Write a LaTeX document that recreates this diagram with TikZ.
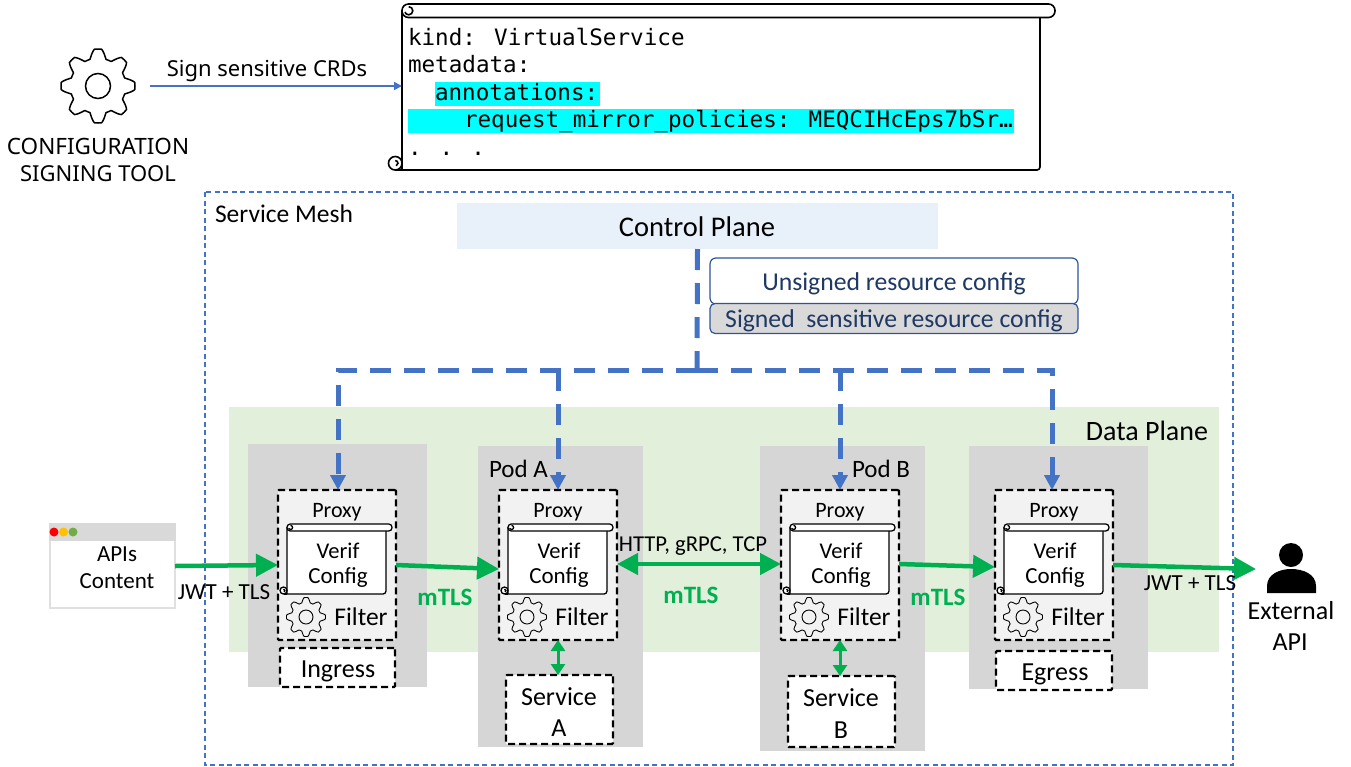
\documentclass[tikz,border=0pt]{standalone}
\usepackage{fontspec}
\setmainfont{Carlito}
\newfontfamily\plexf{Noto Sans}
\newfontfamily\monof{DejaVu Sans Mono}
\usetikzlibrary{arrows.meta,calc}
\definecolor{meshblue}{HTML}{4472C4}
\definecolor{flowgreen}{HTML}{00B050}
\definecolor{planegreen}{HTML}{E2EFDA}
\definecolor{podgrey}{HTML}{D6D6D6}
\definecolor{navytext}{HTML}{1F3864}
\definecolor{navyline}{HTML}{2F5597}
\definecolor{ctrlfill}{HTML}{E8F0F9}
\definecolor{hilite}{HTML}{00FFFF}
\definecolor{dotyellow}{HTML}{FFC000}
\definecolor{dotgreen}{HTML}{70AD47}
\newcommand{\fs}[1]{\fontsize{#1}{#1}\selectfont}
% left, top, body right, roll right, bottom, roll height, line width
\newcommand{\scrollshape}[7]{%
  \draw[line width=#7,fill=white,line join=round] (#1,{#2+#6/2}) -- (#1,#5) [rounded corners=3pt] -- (#3,#5) -- (#3,{#2+#6/2}) [sharp corners] -- cycle;
  \draw[line width=#7,fill=white,rounded corners={#6/2*1pt-0.2pt}] (#1,#2) rectangle (#4,{#2+#6});
  \draw[line width=#7] ({#1+#6*.5},{#2+#6*.2}) arc[start angle=90,end angle=-160,radius={#6*.3*1pt}];
  \draw[line width=#7,fill=white] ({#1-#6/2},{#5-#6/2}) circle[radius={#6/2*1pt}];
  \draw[line width=#7] ({#1-#6*.5},#5) -- (#1,#5);
  \draw[line width=#7] ({#1-#6*.5},{#5-#6*.7}) arc[start angle=90,end angle=-70,radius={#6*.2*1pt}];
}
% centre x, centre y, outer radius, inner radius, line width
\newcommand{\gearshape}[5]{%
  \draw[line width=#5,line join=round] plot[domain=0:360,samples=193,variable=\t]
    ({#1+#3*(.875+.125*max(-1,min(1,1.4*cos(8*\t))))*cos(\t)},{#2+#3*(.875+.125*max(-1,min(1,1.4*cos(8*\t))))*sin(\t)}) -- cycle;
  \draw[line width=#5] (#1,#2) circle[radius=#4*1pt];
}
\tikzset{
  proxybox/.style={fill=black!5,draw=black,line width=2.2pt,dash pattern=on 7pt off 4pt,minimum width=118pt,minimum height=150pt,inner sep=0,outer sep=0,rounded corners=1pt},
  svcbox/.style={fill=white,draw=black,line width=2.2pt,dash pattern=on 7pt off 4pt,inner sep=0,outer sep=0,rounded corners=1pt},
  lbl/.style={inner sep=0,outer sep=0,font=\fs{26},text=black,align=center},
  lblsm/.style={inner sep=0,outer sep=0,font=\fs{24},text=black,align=center},
  mtls/.style={inner sep=0,outer sep=0,font=\fs{25}\bfseries,text=flowgreen},
  code/.style={inner sep=0,outer sep=0,anchor=base west,font=\fs{22.6}\monof,text=black},
  flow/.style={draw=flowgreen,line width=4.5pt,-{Triangle[length=22pt,width=22pt]}},
  bothflow/.style={draw=flowgreen,line width=4.5pt,{Triangle[length=21pt,width=21pt]}-{Triangle[length=21pt,width=21pt]}},
  podflow/.style={draw=flowgreen,line width=3pt,{Triangle[length=11pt,width=14pt]}-{Triangle[length=11pt,width=14pt]}},
  ctrl/.style={draw=meshblue,line width=5pt,dash pattern=on 21pt off 13pt},
  ctrlarrow/.style={ctrl,-{Triangle[length=15pt,width=15pt]}},
}
\begin{document}
\begin{tikzpicture}[x=1pt,y=-1pt]
\useasboundingbox (0,0) rectangle (1351,766);
% planes
\fill[planegreen] (229,407) rectangle (1219,652);
\draw[meshblue,line width=1.2pt,dash pattern=on 5pt off 3.5pt] (205,192) rectangle (1233,765);
\node[lbl,anchor=west,font=\fs{25.5}] (meshlabel) at (215,214) {Service Mesh};
\node[lbl,anchor=east,font=\fs{28}] (datalabel) at (1208,431) {Data Plane};
% control plane
\node[fill=ctrlfill,minimum width=481pt,minimum height=46pt,inner sep=0,outer sep=0] (control) at (697.5,226) {};
\node[lbl,font=\fs{28.5}] (controllabel) at (697,227) {Control Plane};
\node[draw=navyline,line width=1.2pt,fill=white,rounded corners=6pt,minimum width=368pt,minimum height=46pt,inner sep=0,outer sep=0] (unsigned) at (894,281) {};
\node[font=\fs{25.7},text=navytext,inner sep=0,outer sep=0] (unsignedtext) at (894,284) {Unsigned resource config};
\node[draw=navyline,line width=1.2pt,fill=black!15,rounded corners=5pt,minimum width=368pt,minimum height=30pt,inner sep=0,outer sep=0] (signed) at (894,318.5) {};
\node[font=\fs{25.7},text=navytext,inner sep=0,outer sep=0] (signedtext) at (894,321) {Signed\ \ sensitive resource config};
% pods
\fill[podgrey] (248,444) rectangle (427,687);
\fill[podgrey] (478,446) rectangle (643,747);
\fill[podgrey] (760,446) rectangle (925,751);
\fill[podgrey] (969,446) rectangle (1148,689);
\node[lbl,anchor=west,font=\fs{25}] (poda) at (489,469) {Pod A};
\node[lbl,anchor=west,font=\fs{25}] (podb) at (852,469) {Pod B};
% proxies
\foreach \n/\cx/\bx in {I/337/278,A/558/499,B/840/781,E/1054/995}{
  \node[proxybox] (proxy\n) at (\cx,565) {};
  \node[lblsm,font=\fs{22}] (proxytext\n) at (\cx,512) {Proxy};
  \scrollshape{\bx+9}{524}{\bx+108}{\bx+114}{594}{7}{1.3pt}
  \node[lblsm,font=\fs{22.5}] (verif\n) at (\bx+60,550.5) {Verif};
  \node[lblsm,font=\fs{23}] (config\n) at (\bx+60,578) {Config};
  \gearshape{\bx+28}{617}{19.5}{7}{0.9pt}
  \node[lblsm,font=\fs{25.5}] (filter\n) at (\bx+83,617) {Filter};
}
% services
\node[svcbox,minimum width=115pt,minimum height=39pt] (ingress) at (337.5,667.5) {};
\node[lbl] (ingresstext) at (338,671) {Ingress};
\node[svcbox,minimum width=107pt,minimum height=69pt] (svca) at (559.5,709.5) {};
\node[lbl] (svcat) at (559,697) {Service};
\node[lbl] (svcab) at (559,728) {A};
\node[svcbox,minimum width=107pt,minimum height=71pt] (svcb) at (841.5,711.5) {};
\node[lbl] (svcbt) at (841,698) {Service};
\node[lbl] (svcbb) at (841,730) {B};
\node[svcbox,minimum width=116pt,minimum height=39pt] (egress) at (1054,670.5) {};
\node[lbl] (egresstext) at (1055,674) {Egress};
% browser window
\node[draw=black!12,line width=2.5pt,fill=white,minimum width=125pt,minimum height=84pt,inner sep=0,outer sep=0] (browser) at (112.5,566) {};
\fill[black!15] (49,523) rectangle (176,541);
\fill[red] (54,532) circle[radius=4.5pt];
\fill[dotyellow] (63.5,532) circle[radius=4.5pt];
\fill[dotgreen] (73,532) circle[radius=4.5pt];
\node[lblsm,font=\fs{23}] (apis) at (117,554) {APIs};
\node[lblsm,font=\fs{23}] (content) at (117,581) {Content};
% person
\coordinate (ext) at (1256,569);
\fill[black] (1291,555) circle[radius=12pt];
\fill[black] (1267,593) -- (1267,586) .. controls (1267,574) and (1280,569) .. (1291,569) .. controls (1303,569) and (1316,574) .. (1316,586) -- (1316,593) -- cycle;
\node[lbl] (external) at (1291,611) {External};
\node[lbl] (extapi) at (1290,642) {API};
% control connectors
\coordinate (jC) at (697,370);
\coordinate (jI) at (338,370);
\coordinate (jA) at (558,370);
\coordinate (jB) at (840,370);
\coordinate (jE) at (1052,370);
\draw[ctrl] (control.south) -- (jC);
\draw[ctrlarrow] (jC) -- (jI) -- (jI |- proxyI.north);
\draw[ctrlarrow] (jC) -- (jE) -- (jE |- proxyE.north);
\draw[ctrlarrow] (jA) -- (proxyA.north);
\draw[ctrlarrow] (jB) -- (proxyB.north);
% green flows
\draw[flow] (browser.east) -- (proxyI.west);
\draw[flow] (proxyI.east) -- ($(proxyA.west)+(0,4)$);
\draw[bothflow] ($(proxyA.east)+(0,-1)$) -- ($(proxyB.west)+(0,-1)$);
\draw[flow] ($(proxyB.east)+(0,-1)$) -- ($(proxyE.west)+(0,2)$);
\draw[flow] (proxyE.east) -- (ext);
\draw[podflow] (proxyA.south) -- (svca.north -| proxyA.south);
\draw[podflow] (proxyB.south) -- (svcb.north -| proxyB.south);
\node[lblsm,font=\fs{23}] (jwtin) at (224,592) {JWT + TLS};
\node[lblsm,font=\fs{23}] (jwtout) at (1190,583) {JWT + TLS};
\node[lblsm,font=\fs{22.7}] (http) at (693,546) {HTTP, gRPC, TCP};
\node[mtls] (m1) at (445,597) {mTLS};
\node[mtls] (m2) at (691,595) {mTLS};
\node[mtls] (m3) at (938,597) {mTLS};
% top: tool
\gearshape{98}{86}{37}{12.5}{1.5pt}
\coordinate (toolout) at (150,86);
\node[inner sep=0,outer sep=0,align=center,font=\fs{22.5}\plexf] (tool1) at (98,146) {CONFIGURATION};
\node[inner sep=0,outer sep=0,align=center,font=\fs{22}\plexf] (tool2) at (98,174) {SIGNING TOOL};
\node[inner sep=0,outer sep=0,font=\fs{22}\plexf] (signlabel) at (267,71.5) {Sign sensitive CRDs};
% top: scroll
\scrollshape{402}{4}{1040}{1055}{170}{13.5}{1.6pt}
\coordinate (scrollin) at (402,86);
\draw[meshblue,line width=1.6pt,-{Triangle[length=8pt,width=8pt]}] (toolout) -- (scrollin);
\fill[hilite] (435,82) rectangle (600,106);
\fill[hilite] (408,109) rectangle (1014,133);
\node[code] (c1) at (408,45.5) {kind: VirtualService};
\node[code] (c2) at (408,72.5) {metadata:};
\node[code] (c3) at (435,100) {annotations:};
\node[code] (c4) at (464,127) {request\_mirror\_policies: MEQCIHcEps7bSr…};
\node[code] (c5) at (408,155) {. . .};
\end{tikzpicture}
\end{document}
